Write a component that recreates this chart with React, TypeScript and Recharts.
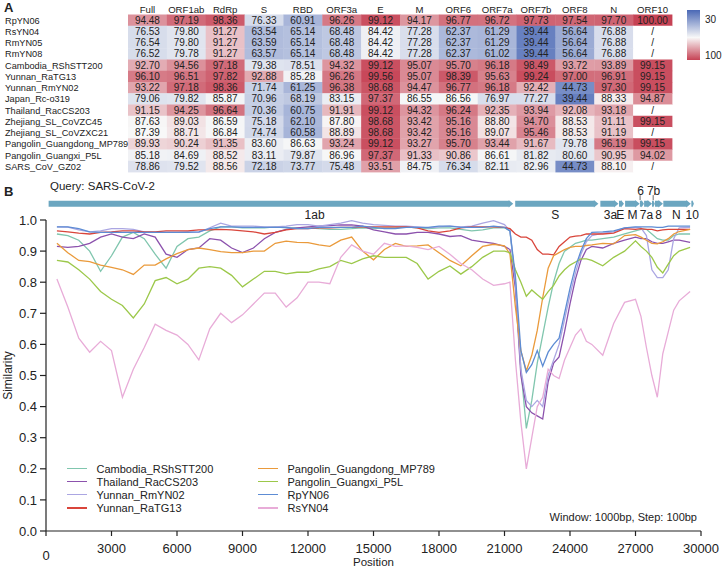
import React from "react";
import {
  ScatterChart,
  Scatter,
  LineChart,
  Line,
  XAxis,
  YAxis,
  ReferenceArea,
  ReferenceDot,
  ReferenceLine,
  Legend,
} from "recharts";

const FONT = '"Liberation Sans", Arial, sans-serif';

// ---- panel A: identity (%) of each strain against SARS-CoV-2, per region
const regions = ["Full", "ORF1ab", "RdRp", "S", "RBD", "ORF3a", "E", "M", "ORF6", "ORF7a", "ORF7b", "ORF8", "N", "ORF10"];

const strains = [
  "RpYN06",
  "RsYN04",
  "RmYN05",
  "RmYN08",
  "Cambodia_RShSTT200",
  "Yunnan_RaTG13",
  "Yunnan_RmYN02",
  "Japan_Rc-o319",
  "Thailand_RacCS203",
  "Zhejiang_SL_CoVZC45",
  "Zhejiang_SL_CoVZXC21",
  "Pangolin_Guangdong_MP789",
  "Pangolin_Guangxi_P5L",
  "SARS_CoV_GZ02",
];

const identityRows: (number | null)[][] = [
  [94.48, 97.19, 98.36, 76.33, 60.91, 96.26, 99.12, 94.17, 96.77, 96.72, 97.73, 97.54, 97.7, 100.0],
  [76.53, 79.8, 91.27, 63.54, 65.14, 68.48, 84.42, 77.28, 62.37, 61.29, 39.44, 56.64, 76.88, null],
  [76.54, 79.8, 91.27, 63.59, 65.14, 68.48, 84.42, 77.28, 62.37, 61.29, 39.44, 56.64, 76.88, null],
  [76.52, 79.78, 91.27, 63.57, 65.14, 68.48, 84.42, 77.28, 62.37, 61.02, 39.44, 56.64, 76.88, null],
  [92.7, 94.56, 97.18, 79.38, 78.51, 94.32, 99.12, 95.07, 95.7, 96.18, 98.49, 93.72, 93.89, 99.15],
  [96.1, 96.51, 97.82, 92.88, 85.28, 96.26, 99.56, 95.07, 98.39, 95.63, 99.24, 97.0, 96.91, 99.15],
  [93.22, 97.18, 98.36, 71.74, 61.25, 96.38, 98.68, 94.47, 96.77, 96.18, 92.42, 44.73, 97.3, 99.15],
  [79.06, 79.82, 85.87, 70.96, 68.19, 83.15, 97.37, 86.55, 86.56, 76.97, 77.27, 39.44, 88.33, 94.87],
  [91.15, 94.25, 96.64, 70.36, 60.75, 91.91, 99.12, 94.32, 96.24, 92.35, 93.94, 92.08, 93.18, null],
  [87.63, 89.03, 86.59, 75.18, 62.1, 87.8, 98.68, 93.42, 95.16, 88.8, 94.7, 88.53, 91.11, 99.15],
  [87.39, 88.71, 86.84, 74.74, 60.58, 88.89, 98.68, 93.42, 95.16, 89.07, 95.46, 88.53, 91.19, null],
  [89.93, 90.24, 91.35, 83.6, 86.63, 93.24, 99.12, 93.27, 95.7, 93.44, 91.67, 79.78, 96.19, 99.15],
  [85.18, 84.69, 88.52, 83.11, 79.87, 86.96, 97.37, 91.33, 90.86, 86.61, 81.82, 80.6, 90.95, 94.02],
  [78.86, 79.52, 88.56, 72.18, 73.77, 75.48, 93.51, 84.75, 76.34, 82.11, 82.96, 44.73, 88.1, null],
];

// ---- panel B: sliding-window similarity (window 1000bp)
const positions = [
  500, 1000, 1500, 2000, 2500, 3000, 3500, 4000, 4500, 5000,
  5500, 6000, 6500, 7000, 7500, 8000, 8500, 9000, 9500, 10000,
  10500, 11000, 11500, 12000, 12500, 13000, 13500, 14000, 14500, 15000,
  15500, 16000, 16500, 17000, 17500, 18000, 18500, 19000, 19500, 20000,
  20500, 21000, 21250, 21500, 21750, 22000, 22250, 22500, 22750, 23000,
  23250, 23500, 23750, 24000, 24250, 24500, 24750, 25000, 25500, 26000,
  26500, 27000, 27250, 27500, 27750, 28000, 28250, 28500, 28750, 29000,
  29500,
];

const cambodia = [
  0.955, 0.95, 0.935, 0.9, 0.835, 0.885, 0.945, 0.96, 0.94, 0.89,
  0.845, 0.915, 0.94, 0.945, 0.965, 0.978, 0.978, 0.975, 0.975, 0.975,
  0.978, 0.975, 0.975, 0.975, 0.972, 0.97, 0.97, 0.972, 0.975, 0.972,
  0.975, 0.975, 0.978, 0.975, 0.972, 0.975, 0.975, 0.97, 0.965, 0.968,
  0.975, 0.975, 0.965, 0.8, 0.52, 0.33, 0.42, 0.54, 0.63, 0.72,
  0.8, 0.86, 0.9, 0.912, 0.925, 0.93, 0.935, 0.935, 0.94, 0.945,
  0.955, 0.965, 0.97, 0.97, 0.955, 0.94, 0.935, 0.935, 0.95, 0.955,
  0.955,
];

const thailand = [
  0.915, 0.912, 0.915, 0.925, 0.945, 0.955, 0.945, 0.94, 0.955, 0.945,
  0.89, 0.88, 0.905, 0.91, 0.94, 0.935, 0.91, 0.895, 0.91, 0.94,
  0.96, 0.97, 0.975, 0.978, 0.98, 0.982, 0.984, 0.984, 0.98, 0.968,
  0.962, 0.955, 0.955, 0.96, 0.96, 0.955, 0.947, 0.95, 0.935, 0.93,
  0.925, 0.915, 0.905, 0.78, 0.5, 0.4, 0.38, 0.37, 0.36, 0.48,
  0.54, 0.56, 0.64, 0.73, 0.81, 0.87, 0.905, 0.915, 0.91, 0.925,
  0.935, 0.945, 0.94, 0.94, 0.93, 0.925, 0.925, 0.93, 0.935, 0.935,
  0.928,
];

const rmyn02 = [
  0.978, 0.977, 0.968, 0.962, 0.965, 0.972, 0.972, 0.97, 0.962, 0.96,
  0.96, 0.96, 0.962, 0.96, 0.975, 0.99, 0.98, 0.98, 0.98, 0.978,
  0.978, 0.98, 0.985, 0.985, 0.98, 0.985, 0.99, 0.998, 0.99, 0.985,
  0.983, 0.98, 0.98, 0.978, 0.975, 0.978, 0.98, 0.978, 0.98, 0.99,
  0.998, 0.985, 0.965, 0.8, 0.52, 0.42, 0.4, 0.42, 0.4, 0.5,
  0.55, 0.6, 0.68, 0.76, 0.83, 0.89, 0.93, 0.95, 0.958, 0.962,
  0.975, 0.976, 0.975, 0.95, 0.84, 0.815, 0.815, 0.84, 0.94, 0.975,
  0.976,
];

const ratg13 = [
  0.965, 0.962, 0.958, 0.955, 0.96, 0.962, 0.965, 0.965, 0.962, 0.962,
  0.965, 0.965, 0.965, 0.968, 0.968, 0.97, 0.968, 0.965, 0.962, 0.955,
  0.96, 0.968, 0.972, 0.972, 0.975, 0.975, 0.976, 0.976, 0.978, 0.978,
  0.978, 0.978, 0.978, 0.975, 0.965, 0.96, 0.965, 0.975, 0.978, 0.978,
  0.978, 0.976, 0.972, 0.955, 0.945, 0.945, 0.935, 0.905, 0.89, 0.89,
  0.888, 0.915, 0.93, 0.945, 0.948, 0.95, 0.955, 0.955, 0.955, 0.958,
  0.972, 0.97, 0.972, 0.97, 0.97, 0.965, 0.968, 0.97, 0.97, 0.97,
  0.97,
];

const mp789 = [
  0.925, 0.895, 0.87, 0.866, 0.855, 0.848, 0.84, 0.825, 0.855, 0.855,
  0.875, 0.892, 0.905, 0.91, 0.905, 0.898, 0.895, 0.895, 0.9, 0.9,
  0.925, 0.932, 0.928, 0.927, 0.92, 0.915, 0.935, 0.945, 0.9, 0.872,
  0.905, 0.925, 0.915, 0.917, 0.92, 0.895, 0.87, 0.853, 0.885, 0.915,
  0.922, 0.917, 0.89, 0.72, 0.58, 0.515, 0.565, 0.645, 0.75, 0.845,
  0.885, 0.895, 0.905, 0.912, 0.915, 0.915, 0.918, 0.92, 0.925, 0.923,
  0.95, 0.953, 0.945, 0.935, 0.925, 0.923, 0.93, 0.94, 0.955, 0.963,
  0.97,
];

const p5l = [
  0.87, 0.865, 0.84, 0.81, 0.77, 0.745, 0.725, 0.685, 0.73, 0.805,
  0.815, 0.795, 0.81, 0.845, 0.85, 0.845, 0.822, 0.785, 0.81, 0.835,
  0.835, 0.827, 0.832, 0.832, 0.843, 0.85, 0.87, 0.86, 0.875, 0.885,
  0.88, 0.88, 0.88, 0.86, 0.81, 0.835, 0.852, 0.826, 0.85, 0.88,
  0.9, 0.9, 0.895, 0.84, 0.8, 0.755, 0.775, 0.76, 0.745, 0.77,
  0.79, 0.82, 0.84, 0.855, 0.865, 0.875, 0.875, 0.87, 0.853, 0.88,
  0.9, 0.933, 0.915, 0.9, 0.88, 0.848, 0.83, 0.858, 0.885, 0.9,
  0.912,
];

const rpyn06 = [
  0.978, 0.978, 0.972, 0.962, 0.96, 0.96, 0.96, 0.96, 0.96, 0.96,
  0.96, 0.96, 0.96, 0.962, 0.972, 0.978, 0.978, 0.976, 0.976, 0.976,
  0.976, 0.976, 0.972, 0.972, 0.976, 0.976, 0.976, 0.976, 0.98, 0.976,
  0.972, 0.972, 0.976, 0.976, 0.976, 0.98, 0.98, 0.976, 0.976, 0.976,
  0.98, 0.976, 0.965, 0.82, 0.58, 0.51, 0.535, 0.58, 0.53, 0.575,
  0.6, 0.62, 0.7, 0.78, 0.85, 0.9, 0.94, 0.96, 0.962, 0.965,
  0.975, 0.978, 0.978, 0.978, 0.978, 0.976, 0.976, 0.98, 0.98, 0.98,
  0.98,
];

const rsyn04 = [
  0.81, 0.72, 0.62, 0.575, 0.61, 0.58, 0.43, 0.52, 0.59, 0.665,
  0.645, 0.63, 0.6, 0.55, 0.65, 0.7, 0.67, 0.695, 0.73, 0.765,
  0.765, 0.72, 0.75, 0.8, 0.8, 0.795, 0.88, 0.92, 0.9, 0.89,
  0.925, 0.915, 0.917, 0.912, 0.905, 0.915, 0.89, 0.86, 0.84, 0.81,
  0.79, 0.795, 0.8, 0.55, 0.35, 0.2, 0.3, 0.4, 0.43, 0.52,
  0.5, 0.49, 0.55, 0.59, 0.63, 0.65, 0.61, 0.6, 0.565, 0.667,
  0.735, 0.745, 0.69, 0.59, 0.5, 0.43, 0.57, 0.64, 0.71, 0.74,
  0.77,
];

const xTicks = [0, 3000, 6000, 9000, 12000, 15000, 18000, 21000, 24000, 27000, 30000];
const yTicks = [0, 0.1, 0.2, 0.3, 0.4, 0.5, 0.6, 0.7, 0.8, 0.9, 1.0];

// genome annotation of the query (SARS-CoV-2)
const genes = [
  { name: "ORF1ab", start: 120, end: 21400 },
  { name: "S", start: 21490, end: 25300 },
  { name: "ORF3a", start: 25390, end: 26220 },
  { name: "E", start: 26245, end: 26472 },
  { name: "M", start: 26523, end: 27191 },
  { name: "ORF6", start: 27202, end: 27387 },
  { name: "ORF7a", start: 27394, end: 27759 },
  { name: "ORF7b", start: 27756, end: 27887 },
  { name: "ORF8", start: 27894, end: 28259 },
  { name: "N", start: 28274, end: 29533 },
  { name: "ORF10", start: 29558, end: 29674 },
];

const geneLabels = [
  { text: "1ab", at: 12300, above: false },
  { text: "S", at: 23320, above: false },
  { text: "3a", at: 25850, above: false },
  { text: "E", at: 26300, above: false },
  { text: "M", at: 26860, above: false },
  { text: "7a", at: 27500, above: false },
  { text: "8", at: 28060, above: false },
  { text: "N", at: 28870, above: false },
  { text: "10", at: 29600, above: false },
  { text: "6", at: 27230, above: true },
  { text: "7b", at: 27830, above: true },
];

const series = [
  { key: "cambodia", name: "Cambodia_RShSTT200", color: "#80c6ae", values: cambodia },
  { key: "thailand", name: "Thailand_RacCS203", color: "#8c52ad", values: thailand },
  { key: "rmyn02", name: "Yunnan_RmYN02", color: "#aba6e2", values: rmyn02 },
  { key: "ratg13", name: "Yunnan_RaTG13", color: "#d9453b", values: ratg13 },
  { key: "mp789", name: "Pangolin_Guangdong_MP789", color: "#ea9a3b", values: mp789 },
  { key: "p5l", name: "Pangolin_Guangxi_P5L", color: "#9cc84a", values: p5l },
  { key: "rpyn06", name: "RpYN06", color: "#5d8cd4", values: rpyn06 },
  { key: "rsyn04", name: "RsYN04", color: "#e8acd8", values: rsyn04 },
];

const lineData = positions.map((pos, i) => {
  const row: Record<string, number> = { pos };
  series.forEach((s) => {
    row[s.key] = s.values[i];
  });
  return row;
});

const cells = strains.flatMap((strain, r) =>
  regions.map((region, c) => ({ r, c, strain, region, value: identityRows[r][c] }))
);

// ---- heatmap geometry
const HEAT_W = 722;
const HEAT_H = 185;
const HEAT_LEFT = 128;
const HEAT_RIGHT = 50;
const HEAT_TOP = 14.5;
const HEAT_BOTTOM = 13;
const cellW = (HEAT_W - HEAT_LEFT - HEAT_RIGHT) / regions.length;
const cellH = (HEAT_H - HEAT_TOP - HEAT_BOTTOM) / strains.length;

const BLUE = [74, 104, 181];
const WHITE = [248, 248, 248];
const RED = [198, 66, 84];

function heatColor(v: number | null) {
  if (v == null) return "#ffffff";
  const mid = 87.5;
  const target = v < mid ? BLUE : RED;
  const t = v < mid ? Math.min(1, (mid - v) / (mid - 30)) : Math.min(1, (v - mid) / (100 - mid));
  const c = WHITE.map((w, i) => Math.round(w + (target[i] - w) * t));
  return `rgb(${c[0]},${c[1]},${c[2]})`;
}

const HeatCell = (props: any) => {
  const { cx, cy, payload } = props;
  if (cx == null || cy == null) return null;
  const v = payload.value;
  return (
    <g>
      <rect
        x={cx - cellW / 2}
        y={cy - cellH / 2}
        width={cellW + 0.4}
        height={cellH + 0.4}
        fill={heatColor(v)}
      />
      <text
        x={cx}
        y={cy + 3.5}
        textAnchor="middle"
        fontSize={10}
        fill="#222"
        fontFamily={FONT}
      >
        {v == null ? "/" : v.toFixed(2)}
      </text>
    </g>
  );
};

const StrainTick = (props: any) => {
  const { y, payload } = props;
  return (
    <text x={5} y={y + 3.4} textAnchor="start" fontSize={9.2} fill="#222" fontFamily={FONT}>
      {strains[payload.value]}
    </text>
  );
};

// ---- panel B helpers
const GENE_COLOR = "#6ba6c0";

const GeneArrow = (props: any) => {
  const { x, y, width, height } = props;
  if (x == null || width == null) return null;
  const head = Math.min(4.5, width * 0.6);
  const mid = y + height / 2;
  const body = x + width - head;
  const pts = [
    [x, y],
    [body, y],
    [body, y - 0.8],
    [x + width, mid],
    [body, y + height + 0.8],
    [body, y + height],
    [x, y + height],
  ]
    .map((p) => p.join(","))
    .join(" ");
  return <polygon points={pts} fill={GENE_COLOR} />;
};

const PosTick = (props: any) => {
  const { x, y, payload } = props;
  const zero = payload.value === 0;
  return (
    <text
      x={x}
      y={y + (zero ? 22 : 15)}
      textAnchor="middle"
      fontSize={13}
      fill="#222"
      fontFamily={FONT}
    >
      {payload.value}
    </text>
  );
};

const SimilarityLabel = (props: any) => {
  const vb = props.viewBox || {};
  const cy = vb.y != null && vb.height != null ? vb.y + vb.height / 2 : 195;
  return (
    <text
      x={12}
      y={cy}
      transform={`rotate(-90 12 ${cy})`}
      textAnchor="middle"
      fontSize={12}
      fill="#222"
      fontFamily={FONT}
    >
      Similarity
    </text>
  );
};

const PositionLabel = (props: any) => {
  const vb = props.viewBox || {};
  const cx = vb.x != null && vb.width != null ? vb.x + vb.width / 2 : 374;
  return (
    <text x={cx} y={385.5} textAnchor="middle" fontSize={11.5} fill="#222" fontFamily={FONT}>
      Position
    </text>
  );
};

const LegendBox = (props: any) => {
  const payload = props.payload || [];
  const items = series
    .map((s) => payload.find((p: any) => p.dataKey === s.key))
    .filter(Boolean);
  return (
    <div
      style={{
        display: "grid",
        gridTemplateColumns: "191px 200px",
        gridTemplateRows: "repeat(4, 13.1px)",
        gridAutoFlow: "column",
        fontFamily: FONT,
        fontSize: 11,
        color: "#222",
      }}
    >
      {items.map((p: any) => (
        <div key={p.dataKey} style={{ display: "flex", alignItems: "center", whiteSpace: "nowrap" }}>
          <span
            style={{
              display: "inline-block",
              width: 20,
              height: 1.5,
              background: p.color,
              marginRight: 10,
            }}
          />
          {p.value}
        </div>
      ))}
    </div>
  );
};

export default function App() {
  return (
    <div
      style={{
        position: "fixed",
        left: 0,
        top: 0,
        width: 722,
        height: 568,
        background: "#fff",
        overflow: "hidden",
        fontFamily: FONT,
        color: "#222",
      }}
    >
      {/* panel A */}
      <div style={{ position: "absolute", left: 0, top: 0 }}>
        <ScatterChart
          width={HEAT_W}
          height={HEAT_H}
          margin={{ top: 0, right: HEAT_RIGHT, bottom: HEAT_BOTTOM, left: 0 }}
        >
          <XAxis
            type="number"
            dataKey="c"
            orientation="top"
            domain={[-0.5, regions.length - 0.5]}
            ticks={regions.map((_, i) => i)}
            tickFormatter={(i: number) => regions[i]}
            interval={0}
            height={HEAT_TOP}
            axisLine={false}
            tickLine={false}
            tickSize={0}
            tickMargin={1.5}
            tick={{ fontSize: 9.6, fill: "#222", fontFamily: FONT }}
          />
          <YAxis
            type="number"
            dataKey="r"
            reversed
            domain={[-0.5, strains.length - 0.5]}
            ticks={strains.map((_, i) => i)}
            interval={0}
            width={HEAT_LEFT}
            axisLine={false}
            tickLine={false}
            tick={<StrainTick />}
          />
          <Scatter data={cells} shape={HeatCell} isAnimationActive={false} />
        </ScatterChart>
      </div>

      <div style={{ position: "absolute", left: 4, top: 0, fontSize: 13, fontWeight: "bold" }}>A</div>
      <div
        style={{
          position: "absolute",
          left: 687,
          top: 10,
          width: 13,
          height: 50,
          background: "linear-gradient(to bottom, #4a68b5 0%, #f8f8f8 55%, #c64254 100%)",
        }}
      />
      <div style={{ position: "absolute", left: 705, top: 14, fontSize: 10 }}>30</div>
      <div style={{ position: "absolute", left: 705, top: 50, fontSize: 10 }}>100</div>

      {/* panel B */}
      <div style={{ position: "absolute", left: 0, top: 180 }}>
        <LineChart
          width={722}
          height={388}
          data={lineData}
          margin={{ top: 40, right: 21, bottom: 0, left: 0 }}
        >
          <XAxis
            type="number"
            dataKey="pos"
            domain={[0, 30000]}
            ticks={xTicks}
            interval={0}
            height={37}
            tickSize={5}
            tickMargin={2}
            stroke="#222"
            strokeWidth={1.2}
            tick={<PosTick />}
            label={<PositionLabel />}
          />
          <YAxis
            type="number"
            domain={[0, 1]}
            ticks={yTicks}
            interval={0}
            width={46}
            tickSize={6}
            tickMargin={3}
            stroke="#222"
            strokeWidth={1.2}
            tickFormatter={(v: number) => v.toFixed(1)}
            tick={{ fontSize: 13, fill: "#222", fontFamily: FONT }}
            label={<SimilarityLabel />}
          />
          {genes.map((g) => (
            <ReferenceArea
              key={g.name}
              x1={g.start}
              x2={g.end}
              y1={1.043}
              y2={1.062}
              ifOverflow="visible"
              shape={<GeneArrow />}
            />
          ))}
          {geneLabels.map((l) => (
            <ReferenceDot
              key={l.text}
              x={l.at}
              y={l.above ? 1.094 : 1.017}
              r={1}
              fill="none"
              stroke="none"
              ifOverflow="visible"
              label={{ value: l.text, position: "center", fontSize: 12, fill: "#222", fontFamily: FONT }}
            />
          ))}
          {geneLabels
            .filter((l) => l.above)
            .map((l) => (
              <ReferenceLine
                key={`tick-${l.text}`}
                segment={[
                  { x: l.at - 20, y: 1.064 },
                  { x: l.at - 20, y: 1.08 },
                ]}
                stroke="#444"
                strokeWidth={0.8}
                ifOverflow="visible"
              />
            ))}
          {series.map((s) => (
            <Line
              key={s.key}
              type="linear"
              dataKey={s.key}
              name={s.name}
              stroke={s.color}
              strokeWidth={1.3}
              dot={false}
              activeDot={false}
              isAnimationActive={false}
            />
          ))}
          <Legend
            layout="vertical"
            align="center"
            verticalAlign="middle"
            content={<LegendBox />}
            wrapperStyle={{ left: 66.5, top: 282, width: 400, height: 54 }}
          />
        </LineChart>
      </div>

      <div style={{ position: "absolute", left: 4, top: 184, fontSize: 13, fontWeight: "bold" }}>B</div>
      <div style={{ position: "absolute", left: 50, top: 180, fontSize: 11.5 }}>Query: SARS-CoV-2</div>
      <div style={{ position: "absolute", right: 25, top: 511, fontSize: 11 }}>
        Window: 1000bp, Step: 100bp
      </div>
    </div>
  );
}
